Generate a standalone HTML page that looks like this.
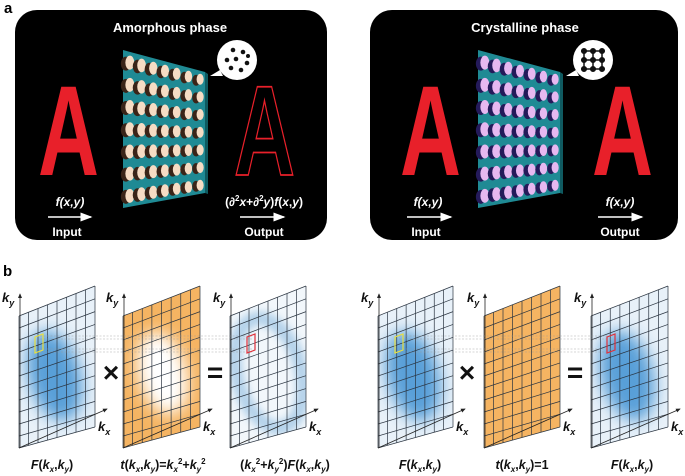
<!DOCTYPE html>
<html><head><meta charset="utf-8"><style>
html,body{margin:0;padding:0;background:#fff;}
svg{display:block;font-family:"Liberation Sans",sans-serif;}
</style></head><body>
<svg id="fig" width="685" height="476" viewBox="0 0 685 476">
<defs>
<filter id="blur6" x="-50%" y="-50%" width="200%" height="200%"><feGaussianBlur stdDeviation="8"/></filter>
<filter id="blur4" x="-50%" y="-50%" width="200%" height="200%"><feGaussianBlur stdDeviation="4"/></filter>
<marker id="arrW" markerWidth="8" markerHeight="8" refX="7" refY="4" orient="auto"><path d="M0,1 L8,4 L0,7 Z" fill="#fff"/></marker>
<marker id="arrK" markerWidth="6" markerHeight="6" refX="5" refY="3" orient="auto"><path d="M0,0.5 L6,3 L0,5.5 Z" fill="#222"/></marker>
</defs>
<text x="4" y="13" font-size="15" font-weight="bold">a</text>
<text x="3" y="276" font-size="15" font-weight="bold">b</text>

<g>
<rect x="15" y="10" width="312" height="230" rx="22" fill="#000"/>
<text x="170" y="32" font-size="13" font-weight="bold" fill="#fff" text-anchor="middle">Amorphous phase</text>
<text transform="translate(38,175) scale(0.66,1)" font-size="128" font-weight="bold" fill="#e8202a">A</text>
<text transform="translate(234,175) scale(0.66,1)" font-size="128" font-weight="bold" fill="none" stroke="#e8202a" stroke-width="1.8">A</text>
<g id="ms1"></g>
<circle cx="237" cy="60" r="20" fill="#fff"/>
<path d="M210,76 L220,70 L223,76 Z" fill="#fff"/>
<g fill="#111">
<circle cx="233" cy="50" r="2.3"/><circle cx="243" cy="52" r="2.3"/><circle cx="227" cy="60" r="2.3"/><circle cx="236" cy="59" r="2.3"/><circle cx="247" cy="63" r="2.3"/><circle cx="231" cy="68" r="2.3"/><circle cx="241" cy="70" r="2.3"/><circle cx="248" cy="56" r="2"/>
</g>
<text x="70" y="206" font-size="12" font-weight="bold" font-style="italic" fill="#fff" text-anchor="middle">f(x,y)</text>
<line x1="48" y1="217" x2="91" y2="217" stroke="#fff" stroke-width="1.5" marker-end="url(#arrW)"/>
<text x="67" y="236" font-size="12" font-weight="bold" fill="#fff" text-anchor="middle">Input</text>
<text x="264" y="206" font-size="12" font-weight="bold" fill="#fff" text-anchor="middle">(∂<tspan font-size="8" dy="-5">2</tspan><tspan dy="5" font-style="italic">x</tspan>+∂<tspan font-size="8" dy="-5">2</tspan><tspan dy="5" font-style="italic">y</tspan>)<tspan font-style="italic">f</tspan>(<tspan font-style="italic">x</tspan>,<tspan font-style="italic">y</tspan>)</text>
<line x1="240" y1="217" x2="284" y2="217" stroke="#fff" stroke-width="1.5" marker-end="url(#arrW)"/>
<text x="264" y="236" font-size="12" font-weight="bold" fill="#fff" text-anchor="middle">Output</text>
</g>

<g>
<rect x="370" y="10" width="308" height="230" rx="22" fill="#000"/>
<text x="525" y="32" font-size="13" font-weight="bold" fill="#fff" text-anchor="middle">Crystalline phase</text>
<text transform="translate(400,175) scale(0.66,1)" font-size="128" font-weight="bold" fill="#e8202a">A</text>
<text transform="translate(592,175) scale(0.66,1)" font-size="128" font-weight="bold" fill="#e8202a">A</text>
<g id="ms2"></g>
<circle cx="593" cy="60" r="20" fill="#fff"/>
<path d="M566,76 L576,70 L579,76 Z" fill="#fff"/>
<g stroke="#111" stroke-width="1.5" fill="#111">
<line x1="584" y1="51" x2="602" y2="51"/><line x1="584" y1="60" x2="602" y2="60"/><line x1="584" y1="69" x2="602" y2="69"/>
<line x1="584" y1="51" x2="584" y2="69"/><line x1="593" y1="51" x2="593" y2="69"/><line x1="602" y1="51" x2="602" y2="69"/>
<circle cx="584" cy="51" r="2.3"/><circle cx="593" cy="51" r="2.3"/><circle cx="602" cy="51" r="2.3"/>
<circle cx="584" cy="60" r="2.3"/><circle cx="593" cy="60" r="2.3"/><circle cx="602" cy="60" r="2.3"/>
<circle cx="584" cy="69" r="2.3"/><circle cx="593" cy="69" r="2.3"/><circle cx="602" cy="69" r="2.3"/>
</g>
<text x="428" y="206" font-size="12" font-weight="bold" font-style="italic" fill="#fff" text-anchor="middle">f(x,y)</text>
<line x1="407" y1="217" x2="451" y2="217" stroke="#fff" stroke-width="1.5" marker-end="url(#arrW)"/>
<text x="426" y="236" font-size="12" font-weight="bold" fill="#fff" text-anchor="middle">Input</text>
<text x="620" y="206" font-size="12" font-weight="bold" font-style="italic" fill="#fff" text-anchor="middle">f(x,y)</text>
<line x1="598" y1="217" x2="642" y2="217" stroke="#fff" stroke-width="1.5" marker-end="url(#arrW)"/>
<text x="620" y="236" font-size="12" font-weight="bold" fill="#fff" text-anchor="middle">Output</text>
</g>

<g id="panelb"></g>
</svg>
<script>
const NS="http://www.w3.org/2000/svg";
function mk(tag,attrs,parent){const e=document.createElementNS(NS,tag);for(const k in attrs)e.setAttribute(k,attrs[k]);parent.appendChild(e);return e;}
function bil(q,u,v){
 const top=[q[0][0]+(q[1][0]-q[0][0])*u,q[0][1]+(q[1][1]-q[0][1])*u];
 const bot=[q[3][0]+(q[2][0]-q[3][0])*u,q[3][1]+(q[2][1]-q[3][1])*u];
 return [top[0]+(bot[0]-top[0])*v,top[1]+(bot[1]-top[1])*v];}
function metasurface(g,x0,glow,dark){
 const q=[[x0,50],[x0+82,72],[x0+82,193],[x0,208]];
 mk('polygon',{points:q.map(p=>p.join(',')).join(' '),fill:'#1f8a94'},g);
 mk('polygon',{points:`${x0+82},72 ${x0+85},74 ${x0+85},194 ${x0+82},193`,fill:'#0f5a60'},g);
 for(let j=0;j<7;j++)for(let i=0;i<7;i++){
  const p=bil(q,(i+0.5)/7,(j+0.5)/7);
  const s=1-i*0.035;
  mk('ellipse',{cx:p[0]-3,cy:p[1]+1,rx:5*s,ry:7*s,fill:dark},g);
  mk('ellipse',{cx:p[0]+1,cy:p[1],rx:4.5*s,ry:7*s,fill:glow},g);
 }
}
metasurface(document.getElementById('ms1'),123,'#f6dcc4','#3a2418');
metasurface(document.getElementById('ms2'),478,'#e6b8f0','#241a5a');

const B=document.getElementById('panelb');
let clipN=0;
function grid(q,kind,nc,nr){
 const g=mk('g',{},B);
 
 
 const pts=q.map(p=>p.join(',')).join(' ');
 const id='cp'+(clipN++);
 const cp=mk('clipPath',{id:id},g);mk('polygon',{points:pts},cp);
 const inner=mk('g',{'clip-path':`url(#${id})`},g);
 const c=bil(q,0.5,0.5);
 if(kind==='blue'){
  mk('polygon',{points:pts,fill:'#e8f1f9'},inner);
  mk('ellipse',{cx:c[0]-4,cy:c[1]+6,rx:26,ry:46,fill:'#4a96d4',opacity:0.9,filter:'url(#blur6)',transform:`rotate(-15 ${c[0]} ${c[1]})`},inner);
 } else if(kind==='ring'){
  mk('polygon',{points:pts,fill:'#f2f7fb'},inner);
  mk('ellipse',{cx:c[0],cy:c[1]+4,rx:32,ry:56,fill:'none',stroke:'#b4d2ea',"stroke-width":14,filter:'url(#blur4)',transform:`rotate(-15 ${c[0]} ${c[1]})`},inner);
 } else if(kind==='hole'){
  mk('polygon',{points:pts,fill:'#f5b462'},inner);
  mk('ellipse',{cx:c[0],cy:c[1]+4,rx:24,ry:42,fill:'#fff',filter:'url(#blur6)',transform:`rotate(-15 ${c[0]} ${c[1]})`},inner);
 } else {
  mk('polygon',{points:pts,fill:'#f5b462'},inner);
 }
 for(let i=0;i<=nc;i++){const a=bil(q,i/nc,0),b=bil(q,i/nc,1);mk('line',{x1:a[0],y1:a[1],x2:b[0],y2:b[1],stroke:'#2a3440','stroke-width':0.7},g);}
 for(let j=0;j<=nr;j++){const a=bil(q,0,j/nr),b=bil(q,1,j/nr);mk('line',{x1:a[0],y1:a[1],x2:b[0],y2:b[1],stroke:'#2a3440','stroke-width':0.7},g);}
 const x0=q[0][0]+1;
 mk('line',{x1:x0,y1:q[3][1],x2:x0,y2:q[0][1]-22,stroke:'#222','stroke-width':0.8,'marker-end':'url(#arrK)'},g);
 mk('line',{x1:q[3][0],y1:q[3][1],x2:q[2][0]+12,y2:q[2][1]-18,stroke:'#222','stroke-width':0.8,'marker-end':'url(#arrK)'},g);
 const ky=mk('text',{x:x0-18,y:q[0][1]-14,'font-size':13,'font-weight':'bold','font-style':'italic',fill:'#111'},g);
 ky.innerHTML='k<tspan font-size="9" dy="4">y</tspan>';
 const kx=mk('text',{x:q[2][0]+3,y:q[2][1]+4,'font-size':13,'font-weight':'bold','font-style':'italic',fill:'#111'},g);
 kx.innerHTML='k<tspan font-size="9" dy="4">x</tspan>';
 return g;
}
function quad(x,y,w){return [[x,y+30],[x+w,y],[x+w,y+141],[x,y+162]];}
const L=[19,123,230], R=[378,484,591];
grid(quad(L[0],286,76),'blue',8,11);
grid(quad(L[1],286,77),'hole',8,11);
grid(quad(L[2],286,76),'ring',8,11);
grid(quad(R[0],286,75),'blue',8,11);
grid(quad(R[1],286,76),'flat',8,11);
grid(quad(R[2],286,77),'blue',8,11);
[[40,252],[399,613]].forEach(r=>{[336,339,349,352].forEach(y=>{const l=mk('line',{x1:r[0],y1:y,x2:r[1],y2:y,stroke:'#999','stroke-width':0.5,'stroke-dasharray':'2,1.5',opacity:0.8},B);
 
 });});
function box(x,col){const b=mk('polygon',{points:`${x},337 ${x+8},334 ${x+8},350 ${x},353`,fill:'none',stroke:col,'stroke-width':1.2},B);
 
 }
box(35,'#e8e040');box(247,'#e0303a');box(395,'#e8e040');box(607,'#e0303a');
function op(x,s){const t=mk('text',{x:x,y:382,'font-size':28,'font-weight':'bold','text-anchor':'middle',fill:'#111'},B);t.textContent=s;
 
 }
op(111,'×');op(215,'=');op(467,'×');op(575,'=');
function cap(x,html){const t=mk('text',{x:x,y:469,'font-size':12.5,'font-weight':'bold','text-anchor':'middle',fill:'#111'},B);t.innerHTML=html;
 
 }
const kxky='(<tspan font-style="italic">k</tspan><tspan font-size="8" dy="3" font-style="italic">x</tspan><tspan dy="-3">,</tspan><tspan font-style="italic">k</tspan><tspan font-size="8" dy="3" font-style="italic">y</tspan><tspan dy="-3">)</tspan>';
const F='<tspan font-style="italic">F</tspan>'+kxky;
cap(52,F);
cap(163,'<tspan font-style="italic">t</tspan>'+kxky+'=<tspan font-style="italic">k</tspan><tspan font-size="8" dy="3" font-style="italic">x</tspan><tspan font-size="8" dy="-8">2</tspan><tspan dy="5">+</tspan><tspan font-style="italic">k</tspan><tspan font-size="8" dy="3" font-style="italic">y</tspan><tspan font-size="8" dy="-8">2</tspan>');
cap(285,'(<tspan font-style="italic">k</tspan><tspan font-size="8" dy="3" font-style="italic">x</tspan><tspan font-size="8" dy="-8">2</tspan><tspan dy="5">+</tspan><tspan font-style="italic">k</tspan><tspan font-size="8" dy="3" font-style="italic">y</tspan><tspan font-size="8" dy="-8">2</tspan><tspan dy="5">)</tspan>'+F);
cap(420,F);
cap(522,'<tspan font-style="italic">t</tspan>'+kxky+'=1');
cap(632,F);
</script>
</body></html>
